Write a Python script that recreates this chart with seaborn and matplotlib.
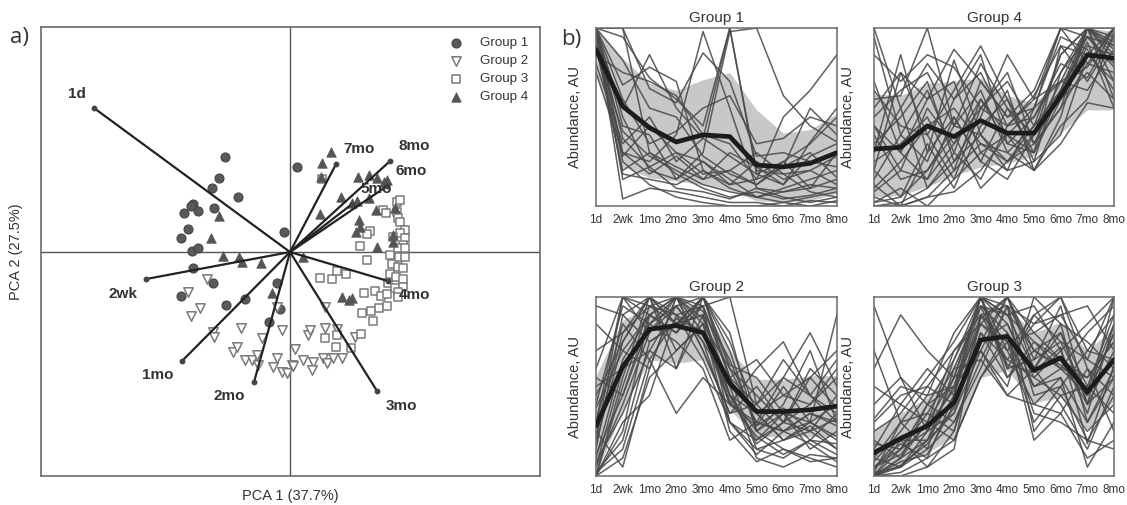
import numpy as np
import pandas as pd
import matplotlib
matplotlib.use("Agg")
import matplotlib.pyplot as plt
import seaborn as sns

# ---------------- data ----------------
timepoints = ["1d", "2wk", "1mo", "2mo", "3mo", "4mo", "5mo", "6mo", "7mo", "8mo"]
group_names = ["Group 1", "Group 2", "Group 3", "Group 4"]

# PCA scores (PC1, PC2) per group
g1_pc1 = [-0.65, -0.71, -0.78, -0.52, -0.97, -0.99, -1.06, -0.92, -0.76, -1.02, -1.09, -0.98,
          -0.92, -0.06, 0.07, -0.97, -0.77, -1.09, -0.64, -0.45, -0.13, -0.10, -0.21]
g1_pc2 = [0.95, 0.74, 0.64, 0.55, 0.48, 0.46, 0.39, 0.41, 0.44, 0.23, 0.14, 0.01,
          0.04, 0.20, 0.85, -0.16, -0.31, -0.44, -0.53, -0.47, -0.31, -0.57, -0.70]

g2_pc1 = [-0.83, -1.02, -0.90, -0.99, -0.77, -0.76, -0.49, -0.28, -0.08, -0.13, -0.57, -0.53,
          -0.45, -0.38, -0.33, -0.32, -0.13, -0.17, -0.08, -0.03, 0.05, 0.02, 0.35, 0.18,
          0.20, 0.35, 0.47, 0.03, 0.13, 0.23, 0.22, 0.33, 0.37, 0.43, 0.52, 0.65]
g2_pc2 = [-0.27, -0.40, -0.56, -0.64, -0.80, -0.85, -0.76, -0.86, -0.78, -0.55, -1.00, -0.95,
          -1.08, -1.08, -1.03, -1.13, -1.06, -1.15, -1.20, -1.21, -0.97, -1.13, -0.55, -0.83,
          -0.78, -0.76, -0.77, -1.14, -1.08, -1.10, -1.18, -1.06, -1.11, -1.06, -1.06, -0.85]

g3_pc1 = [0.77, 0.30, 0.42, 0.47, 0.56, 1.00, 1.13, 1.02, 1.08, 1.13, 1.00, 1.06, 1.13, 0.98,
          1.05, 1.13, 0.74, 0.85, 0.91, 0.97, 0.81, 0.72, 0.89, 0.97, 0.83, 0.71, 0.47, 0.35,
          0.46, 0.61, 1.08, 1.08, 0.32, 0.80, 0.77, 0.70, 0.93, 0.96, 1.07, 1.10, 1.07, 1.08,
          1.10, 1.15, 1.10, 1.03, 1.15, 1.13, 1.08, 1.15, 1.09, 1.15]
g3_pc2 = [-0.08, -0.26, -0.27, -0.19, -0.22, -0.03, -0.02, -0.12, -0.15, -0.16, -0.22, -0.25,
          -0.27, -0.31, -0.36, -0.35, -0.41, -0.39, -0.44, -0.42, -0.59, -0.61, -0.56, -0.54,
          -0.69, -0.82, -0.83, -0.86, -0.95, -0.96, -0.40, -0.45, 0.73, 0.21, 0.18, 0.06,
          0.42, 0.39, 0.50, 0.52, 0.40, 0.34, 0.30, 0.22, 0.19, 0.15, 0.14, 0.07, 0.04, 0.04,
          -0.05, -0.05]

g4_pc1 = [-0.71, -0.79, -0.67, -0.51, -0.48, -0.29, -0.18, 0.41, 0.32, 0.31, 0.30, 0.51, 0.62,
          0.67, 0.69, 0.70, 0.66, 0.87, 0.68, 0.79, 0.87, 0.94, 0.97, 0.79, 0.86, 1.05, 1.03,
          1.03, 0.52, 0.59, 0.62, 0.13]
g4_pc2 = [0.36, 0.14, -0.04, -0.05, -0.10, -0.11, -0.41, 1.00, 0.89, 0.75, 0.38, 0.55, 0.49,
          0.51, 0.32, 0.25, 0.20, 0.05, 0.75, 0.77, 0.74, 0.70, 0.72, 0.54, 0.42, 0.44, 0.17,
          0.10, -0.45, -0.48, -0.46, -0.05]

# variable loadings (biplot vectors), same order as timepoints
load_pc1 = [-1.96, -1.44, -1.08, -0.36, 0.87, 0.98, 0.62, 0.97, 0.46, 1.00]
load_pc2 = [1.44, -0.27, -1.09, -1.30, -1.39, -0.29, 0.48, 0.66, 0.88, 0.91]

# normalised abundance profiles of the members of each group
g1_profiles = [
    [1.00, 1.00, 0.66, 0.58, 0.86, 0.70, 0.28, 0.30, 0.25, 0.22],
    [1.00, 0.30, 0.25, 0.40, 0.98, 0.55, 0.10, 0.08, 0.10, 0.15],
    [0.95, 0.55, 0.85, 0.55, 0.38, 1.00, 0.20, 0.18, 0.20, 0.28],
    [1.00, 0.45, 0.40, 0.15, 0.30, 0.98, 1.00, 0.62, 0.45, 0.36],
    [0.90, 0.20, 0.30, 0.18, 0.10, 0.05, 0.08, 0.04, 0.06, 0.10],
    [1.00, 0.04, 0.10, 0.08, 0.05, 0.02, 0.02, 0.00, 0.03, 0.02],
    [0.85, 0.75, 0.70, 0.62, 0.40, 0.35, 0.15, 0.50, 0.65, 0.85],
    [1.00, 0.82, 0.55, 0.50, 0.28, 0.18, 0.12, 0.22, 0.55, 0.40],
    [0.98, 0.38, 0.22, 0.30, 0.18, 0.20, 0.30, 0.18, 0.08, 0.05],
    [1.00, 0.28, 0.45, 0.30, 0.25, 0.15, 0.05, 0.10, 0.15, 0.20],
    [0.92, 0.18, 0.15, 0.12, 0.20, 0.12, 0.25, 0.15, 0.20, 0.12],
    [1.00, 0.60, 0.35, 0.42, 0.55, 0.62, 0.35, 0.38, 0.50, 0.45],
    [0.88, 0.42, 0.28, 0.20, 0.12, 0.08, 0.05, 0.02, 0.05, 0.08],
    [1.00, 0.15, 0.22, 0.10, 0.08, 0.04, 0.10, 0.05, 0.02, 0.05],
    [0.80, 0.35, 0.50, 0.25, 0.38, 0.28, 0.18, 0.12, 0.28, 0.35],
    [1.00, 0.68, 0.78, 0.70, 0.20, 0.10, 0.05, 0.08, 0.12, 0.10],
    [1.00, 1.00, 0.30, 0.22, 0.15, 0.30, 0.22, 0.12, 0.36, 0.55],
    [0.95, 0.25, 0.12, 0.05, 0.02, 0.00, 0.00, 0.02, 0.00, 0.03],
    [1.00, 0.50, 0.20, 0.15, 0.25, 0.12, 0.15, 0.22, 0.30, 0.16],
    [0.75, 0.30, 0.18, 0.28, 0.15, 0.20, 0.12, 0.25, 0.10, 0.30],
    [1.00, 0.95, 0.72, 0.60, 0.45, 1.00, 0.18, 0.25, 0.35, 0.50],
]
g2_profiles = [
    [0.00, 0.55, 1.00, 0.85, 1.00, 0.60, 0.30, 0.25, 0.35, 0.30],
    [0.20, 1.00, 0.90, 1.00, 0.80, 0.45, 0.20, 0.35, 0.15, 0.25],
    [0.95, 0.90, 0.75, 0.85, 0.95, 1.00, 0.40, 0.55, 0.45, 0.35],
    [0.05, 0.40, 0.80, 1.00, 0.70, 0.35, 0.50, 0.30, 0.60, 0.45],
    [0.45, 0.75, 1.00, 0.60, 1.00, 0.55, 0.15, 0.10, 0.20, 0.18],
    [0.00, 0.10, 0.55, 0.70, 0.85, 0.25, 0.08, 0.15, 0.10, 0.05],
    [0.30, 0.85, 0.65, 0.35, 0.55, 0.40, 0.60, 0.75, 0.45, 0.65],
    [0.10, 0.65, 0.90, 0.80, 1.00, 0.70, 0.25, 0.40, 0.70, 0.30],
    [0.60, 1.00, 0.80, 0.95, 0.75, 0.50, 0.35, 0.20, 0.30, 0.90],
    [0.00, 0.30, 0.45, 0.90, 0.95, 0.30, 0.12, 0.25, 0.30, 0.22],
    [0.25, 0.05, 0.60, 1.00, 0.85, 0.60, 0.45, 0.30, 0.25, 0.15],
    [0.50, 0.60, 0.85, 0.75, 0.60, 0.20, 0.30, 0.55, 0.80, 0.50],
    [0.15, 0.90, 1.00, 0.85, 0.90, 0.45, 0.25, 0.15, 0.08, 0.10],
    [0.38, 0.70, 0.60, 1.00, 0.95, 0.55, 0.65, 0.45, 0.55, 0.38],
    [0.00, 0.50, 0.95, 0.90, 0.65, 0.30, 0.20, 0.30, 0.40, 0.55],
    [0.70, 0.80, 1.00, 0.70, 0.85, 0.40, 0.28, 0.50, 0.30, 0.20],
    [0.08, 0.35, 0.70, 0.95, 1.00, 0.75, 0.35, 0.20, 0.25, 0.45],
    [0.40, 0.95, 0.85, 1.00, 0.70, 0.35, 0.40, 0.65, 0.45, 0.30],
    [0.02, 0.20, 0.75, 0.85, 0.90, 0.50, 0.10, 0.05, 0.12, 0.10],
    [0.55, 0.45, 0.90, 0.80, 1.00, 0.62, 0.55, 0.35, 0.20, 0.35],
    [0.18, 0.75, 1.00, 0.90, 0.80, 0.40, 0.30, 0.25, 0.35, 0.28],
    [0.05, 0.60, 0.70, 0.60, 0.90, 0.45, 0.18, 0.30, 0.55, 0.70],
    [0.30, 1.00, 0.95, 0.85, 1.00, 0.80, 0.25, 0.35, 0.30, 0.40],
    [0.12, 0.45, 0.85, 0.95, 0.75, 0.30, 0.15, 0.20, 0.28, 0.15],
    [0.85, 0.70, 0.90, 1.00, 0.88, 0.45, 0.35, 0.45, 0.40, 0.60],
    [0.00, 0.25, 0.90, 0.80, 0.95, 0.55, 0.40, 0.25, 0.18, 0.08],
    [0.22, 0.80, 0.95, 1.00, 0.92, 0.65, 0.28, 0.38, 0.25, 0.32],
    [0.02, 0.15, 0.65, 0.88, 0.80, 0.42, 0.22, 0.12, 0.20, 0.12],
]
g3_profiles = [
    [0.00, 0.10, 0.20, 0.45, 1.00, 0.55, 0.75, 0.65, 0.40, 0.70],
    [0.05, 0.15, 0.25, 0.35, 0.70, 1.00, 0.60, 0.85, 0.30, 0.55],
    [0.95, 0.55, 0.40, 0.50, 0.85, 0.75, 0.50, 0.60, 0.45, 0.80],
    [0.10, 0.30, 0.35, 0.60, 0.95, 0.90, 0.95, 0.70, 0.85, 1.00],
    [0.00, 0.02, 0.10, 0.20, 0.55, 0.80, 0.20, 0.35, 0.10, 0.20],
    [0.30, 0.45, 0.50, 0.40, 0.80, 0.65, 0.85, 1.00, 0.60, 0.45],
    [0.02, 0.05, 0.15, 0.30, 0.65, 0.45, 0.40, 0.55, 0.05, 0.30],
    [0.15, 0.40, 0.30, 0.70, 0.90, 0.95, 0.70, 0.80, 0.50, 0.90],
    [0.00, 0.20, 0.05, 0.25, 0.75, 0.85, 0.55, 0.45, 0.25, 0.40],
    [0.60, 0.90, 0.70, 0.55, 1.00, 0.70, 0.90, 0.75, 0.65, 0.55],
    [0.05, 0.12, 0.30, 0.55, 1.00, 0.60, 0.65, 0.95, 0.40, 1.00],
    [0.20, 0.10, 0.40, 0.30, 0.60, 0.95, 0.45, 0.50, 0.70, 0.65],
    [0.00, 0.08, 0.12, 0.40, 0.85, 1.00, 0.80, 0.65, 0.55, 0.75],
    [0.40, 0.55, 0.25, 0.65, 0.95, 0.80, 0.35, 0.30, 0.20, 0.15],
    [0.08, 0.25, 0.45, 0.50, 0.70, 0.50, 1.00, 0.85, 0.75, 0.60],
    [0.00, 0.00, 0.05, 0.15, 0.90, 0.65, 0.55, 0.70, 0.35, 0.85],
    [0.25, 0.35, 0.55, 0.75, 1.00, 0.90, 0.60, 0.40, 0.15, 0.50],
    [0.12, 0.20, 0.20, 0.35, 0.80, 0.55, 0.70, 0.60, 0.80, 0.95],
    [0.02, 0.30, 0.15, 0.60, 0.65, 0.95, 0.25, 0.45, 0.50, 0.35],
    [0.50, 0.40, 0.60, 0.45, 0.90, 0.75, 0.80, 0.90, 0.95, 0.70],
    [0.00, 0.05, 0.25, 0.50, 1.00, 0.85, 0.50, 0.55, 0.30, 0.60],
    [0.18, 0.15, 0.35, 0.25, 0.75, 1.00, 0.65, 0.75, 0.45, 0.80],
    [0.70, 0.30, 0.50, 0.70, 0.85, 0.70, 0.40, 0.35, 0.60, 0.25],
    [0.05, 0.18, 0.10, 0.45, 0.95, 0.60, 0.90, 1.00, 0.70, 0.90],
    [0.00, 0.10, 0.30, 0.20, 0.55, 0.75, 0.30, 0.50, 0.20, 0.45],
    [0.32, 0.50, 0.45, 0.80, 1.00, 0.90, 0.75, 0.60, 0.55, 0.75],
    [0.10, 0.05, 0.20, 0.55, 0.70, 0.45, 0.60, 0.80, 0.40, 0.55],
    [0.00, 0.15, 0.40, 0.65, 1.00, 0.95, 0.85, 0.90, 0.65, 1.00],
    [0.04, 0.22, 0.28, 0.48, 1.00, 0.62, 0.58, 0.72, 0.18, 0.62],
    [0.00, 0.06, 0.18, 0.38, 0.88, 1.00, 0.70, 0.62, 0.48, 0.85],
]
g4_profiles = [
    [1.00, 0.55, 0.80, 0.60, 0.75, 0.45, 0.60, 1.00, 1.00, 0.85],
    [0.05, 0.00, 0.05, 0.20, 0.35, 0.25, 0.40, 0.70, 1.00, 0.90],
    [0.60, 0.62, 1.00, 0.45, 0.80, 0.55, 0.30, 0.65, 0.92, 0.55],
    [0.30, 0.85, 0.30, 0.82, 0.40, 0.25, 0.35, 0.55, 0.80, 1.00],
    [0.00, 0.02, 0.10, 0.30, 0.15, 0.45, 0.50, 0.75, 0.95, 0.80],
    [0.45, 0.20, 0.55, 0.35, 0.60, 0.40, 0.20, 0.50, 1.00, 0.70],
    [0.15, 0.40, 0.25, 0.60, 0.85, 0.35, 0.30, 0.90, 0.70, 0.95],
    [0.85, 0.70, 0.85, 0.78, 0.55, 0.70, 0.45, 0.60, 0.75, 0.60],
    [0.20, 0.05, 0.35, 0.10, 0.45, 0.60, 0.25, 0.40, 0.85, 1.00],
    [0.02, 0.10, 0.00, 0.15, 0.30, 0.20, 0.55, 1.00, 0.80, 0.75],
    [0.70, 0.30, 0.15, 0.50, 0.25, 0.15, 0.40, 0.85, 1.00, 0.92],
    [0.35, 0.50, 0.70, 0.25, 0.50, 0.85, 0.60, 0.70, 0.65, 0.88],
    [0.10, 0.25, 0.45, 0.55, 0.35, 0.30, 0.20, 0.45, 0.60, 0.98],
    [0.55, 0.75, 0.60, 0.88, 0.70, 0.50, 0.55, 0.95, 0.88, 0.65],
    [0.00, 0.00, 0.05, 0.08, 0.20, 0.40, 0.30, 0.60, 1.00, 0.95],
    [0.40, 0.15, 0.20, 0.40, 0.10, 0.25, 0.45, 0.65, 0.95, 0.78],
    [0.25, 0.35, 0.50, 0.20, 0.60, 0.35, 0.50, 0.80, 0.72, 1.00],
    [0.65, 0.45, 0.40, 0.65, 0.90, 0.60, 0.35, 0.55, 1.00, 0.82],
    [0.08, 0.20, 0.15, 0.35, 0.55, 0.45, 0.62, 0.90, 0.85, 0.70],
    [0.50, 0.65, 0.75, 0.45, 0.40, 0.20, 0.25, 0.75, 1.00, 1.00],
    [0.12, 0.00, 0.30, 0.50, 0.25, 0.55, 0.40, 0.60, 0.90, 0.85],
    [0.95, 0.40, 0.65, 0.30, 0.70, 0.50, 0.65, 1.00, 0.95, 0.90],
    [0.30, 0.55, 0.10, 0.25, 0.40, 0.65, 0.20, 0.35, 0.58, 0.55],
    [0.02, 0.05, 0.20, 0.45, 0.65, 0.30, 0.45, 0.85, 1.00, 0.88],
    [0.45, 0.30, 0.60, 0.70, 0.30, 0.40, 0.55, 0.70, 0.78, 1.00],
    [0.20, 0.75, 0.40, 0.15, 0.55, 0.75, 0.35, 0.65, 1.00, 0.60],
]

# group mean profile and the shaded spread around it
g1_mean = [0.88, 0.56, 0.44, 0.36, 0.40, 0.39, 0.23, 0.22, 0.24, 0.30]
g1_low = [0.75, 0.22, 0.16, 0.14, 0.12, 0.09, 0.03, 0.02, 0.03, 0.07]
g1_high = [1.00, 0.83, 0.69, 0.65, 0.71, 0.75, 0.54, 0.41, 0.43, 0.52]

g2_mean = [0.28, 0.61, 0.82, 0.84, 0.80, 0.52, 0.36, 0.36, 0.37, 0.39]
g2_low = [0.01, 0.37, 0.65, 0.63, 0.65, 0.37, 0.22, 0.22, 0.22, 0.22]
g2_high = [0.56, 0.87, 0.95, 0.96, 0.95, 0.70, 0.54, 0.54, 0.56, 0.56]

g3_mean = [0.13, 0.21, 0.28, 0.41, 0.76, 0.78, 0.59, 0.66, 0.47, 0.65]
g3_low = [0.00, 0.07, 0.13, 0.22, 0.55, 0.59, 0.41, 0.44, 0.26, 0.42]
g3_high = [0.26, 0.35, 0.44, 0.63, 0.95, 0.94, 0.80, 0.86, 0.70, 0.83]

g4_mean = [0.32, 0.33, 0.45, 0.39, 0.48, 0.41, 0.41, 0.62, 0.85, 0.83]
g4_low = [0.05, 0.06, 0.11, 0.17, 0.22, 0.24, 0.28, 0.41, 0.54, 0.54]
g4_high = [0.63, 0.62, 0.69, 0.70, 0.72, 0.62, 0.58, 0.71, 1.00, 0.98]

# ---------------- style ----------------
sns.set_theme(style="white")
plt.rcParams["font.family"] = ["Liberation Sans", "DejaVu Sans"]
TEXT = "#333333"
SPINE = "#6a6a6a"

fig = plt.figure(figsize=(11.27, 5.05), dpi=100)

# ---------------- a) PCA biplot ----------------
ax = fig.add_axes([0.0364, 0.0574, 0.4428, 0.889])
ax.axhline(0, color="#555555", lw=1.0, zorder=1)
ax.axvline(0, color="#555555", lw=1.0, zorder=1)

scores = pd.DataFrame({
    "PC1": g1_pc1 + g2_pc1 + g3_pc1 + g4_pc1,
    "PC2": g1_pc2 + g2_pc2 + g3_pc2 + g4_pc2,
    "group": (["Group 1"] * len(g1_pc1) + ["Group 2"] * len(g2_pc1)
              + ["Group 3"] * len(g3_pc1) + ["Group 4"] * len(g4_pc1)),
})

marker_style = {
    "Group 1": dict(marker="o", s=42, color="#5a5a5a", edgecolor="#444444", linewidth=0.8),
    "Group 2": dict(marker="v", s=46, facecolor="white", edgecolor="#7a7a7a", linewidth=1.1),
    "Group 3": dict(marker="s", s=38, facecolor="white", edgecolor="#7a7a7a", linewidth=1.1),
    "Group 4": dict(marker="^", s=46, color="#555555", edgecolor="#555555", linewidth=0.6),
}
for name in group_names:
    sub = scores[scores["group"] == name]
    sns.scatterplot(data=sub, x="PC1", y="PC2", ax=ax, label=name, zorder=3,
                    **marker_style[name])

# loading vectors with their time labels
label_offsets = {
    "1d": (-17, 14), "2wk": (-23, -15), "1mo": (-24, -14), "2mo": (-25, -14),
    "3mo": (24, -15), "4mo": (26, -14), "5mo": (24, 15), "6mo": (24, 15),
    "7mo": (23, 15), "8mo": (24, 15),
}
for lab, lx, ly in zip(timepoints, load_pc1, load_pc2):
    ax.plot([0, lx], [0, ly], color="#222222", lw=1.6, zorder=4, solid_capstyle="round")
    ax.plot([lx], [ly], marker="o", ms=3.2, color="#444444", zorder=5)
    ax.annotate(lab, xy=(lx, ly), xytext=label_offsets[lab], textcoords="offset pixels",
                ha="center", va="center", fontsize=11, fontweight="bold", color=TEXT,
                zorder=6)

ax.set_xlim(-2.49, 2.50)
ax.set_ylim(-2.24, 2.25)
ax.set_xticks([])
ax.set_yticks([])
ax.set_xlabel("PCA 1 (37.7%)", fontsize=10.5, color=TEXT, labelpad=9)
ax.set_ylabel("PCA 2 (27.5%)", fontsize=10.5, color=TEXT, labelpad=13)
for sp in ax.spines.values():
    sp.set_color(SPINE)
    sp.set_linewidth(1.2)

leg = ax.legend(loc="upper left", bbox_to_anchor=(0.818, 0.978), frameon=False,
                fontsize=9.6, borderpad=0, handlelength=1.0, handletextpad=1.3,
                labelspacing=0.42, borderaxespad=0)
for t in leg.get_texts():
    t.set_color(TEXT)

fig.text(0.009, 1 - 38 / 505, "a)", fontsize=16, color=TEXT, va="center", ha="left",
         family=["Open Sans", "DejaVu Sans"])

# ---------------- b) abundance profiles ----------------
panels = {
    "Group 1": ([0.5288, 0.592, 0.2138, 0.3525], g1_profiles, g1_mean, g1_low, g1_high, 10),
    "Group 4": ([0.7755, 0.592, 0.2130, 0.3525], g4_profiles, g4_mean, g4_low, g4_high, 14),
    "Group 2": ([0.5288, 0.0574, 0.2138, 0.3545], g2_profiles, g2_mean, g2_low, g2_high, 10),
    "Group 3": ([0.7755, 0.0574, 0.2130, 0.3545], g3_profiles, g3_mean, g3_low, g3_high, 14),
}
xpos = np.arange(len(timepoints))

for name, (rect, profiles, mean, low, high, ypad) in panels.items():
    pax = fig.add_axes(rect)
    long = pd.DataFrame({
        "member": np.repeat(np.arange(len(profiles)), len(timepoints)),
        "time": np.tile(xpos, len(profiles)),
        "abundance": np.concatenate(profiles),
    })
    pax.fill_between(xpos, low, high, color="#c8c8c8", lw=0, zorder=1)
    sns.lineplot(data=long, x="time", y="abundance", units="member", estimator=None,
                 color="#4a4a4a", lw=1.1, alpha=0.88, ax=pax, legend=False, zorder=2)
    mean_df = pd.DataFrame({"time": xpos, "abundance": mean})
    sns.lineplot(data=mean_df, x="time", y="abundance", color="#1c1c1c", lw=3.4,
                 ax=pax, legend=False, zorder=3)
    pax.set_xlim(0, len(timepoints) - 1)
    pax.set_ylim(0, 1)
    pax.set_xticks(xpos)
    pax.set_xticklabels(timepoints, fontsize=8.5, color=TEXT)
    pax.tick_params(axis="x", length=0, pad=6)
    pax.set_yticks([])
    pax.set_xlabel("")
    pax.set_ylabel("Abundance, AU", fontsize=10.5, color=TEXT, labelpad=ypad)
    pax.set_title(name, fontsize=11, color=TEXT, pad=4)
    for sp in pax.spines.values():
        sp.set_color(SPINE)
        sp.set_linewidth(1.1)
    pax.set_zorder(2)

fig.text(0.4975, 1 - 40 / 505, "b)", fontsize=16, color=TEXT, va="center", ha="left",
         family=["Open Sans", "DejaVu Sans"])

fig.savefig("out.png", dpi=100, facecolor="white")
